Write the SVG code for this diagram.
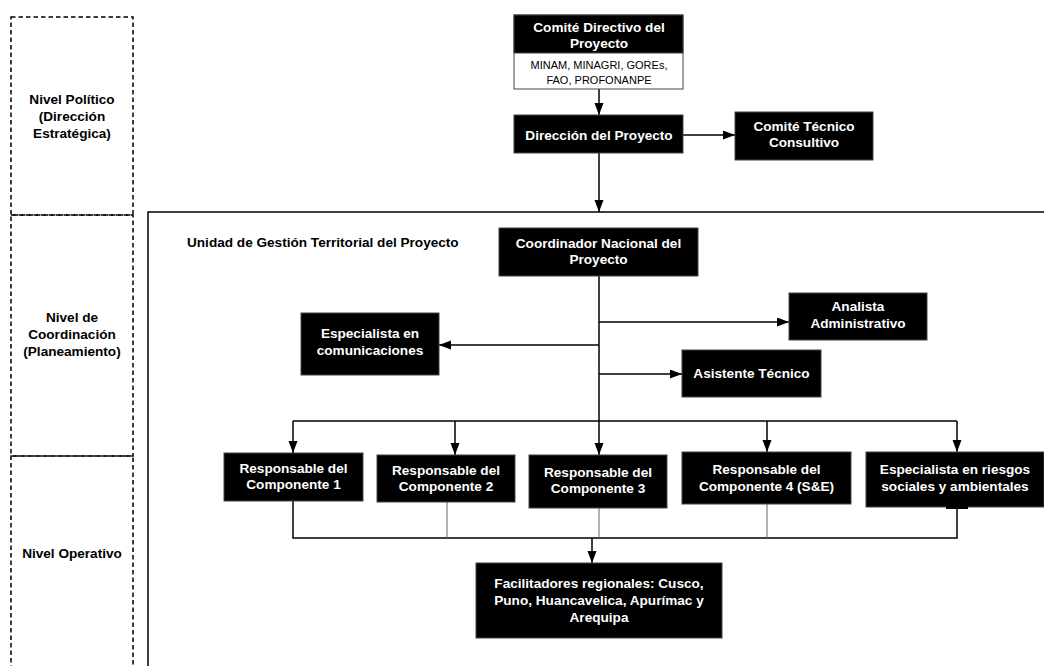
<svg xmlns="http://www.w3.org/2000/svg" width="1044" height="666" viewBox="0 0 1044 666">
<style>
.t{font-family:"Liberation Sans",Arial,sans-serif;font-size:13.6px;font-weight:bold;text-anchor:middle}
.s{font-family:"Liberation Sans",Arial,sans-serif;font-size:11px;text-anchor:middle;fill:#000}
.w{fill:#fff}
.k{fill:#000}
.box{fill:#000;stroke:#444;stroke-width:1}
.dash{fill:none;stroke:#000;stroke-width:1.5;stroke-dasharray:4.5 3}
.ln{fill:none;stroke:#000;stroke-width:1.5}
.thin{fill:none;stroke:#666;stroke-width:1}
.ar{marker-end:url(#ah)}
</style>
<defs>
<marker id="ah" markerUnits="userSpaceOnUse" markerWidth="13" markerHeight="10" refX="12" refY="4.5" orient="auto">
<path d="M0,0 L12,4.5 L0,9 z" fill="#000"/>
</marker>
</defs>
<rect width="1044" height="666" fill="#fff"/>

<g id="levels">
<rect class="dash" x="11" y="17" width="122" height="198"/>
<rect class="dash" x="11" y="215" width="122" height="241"/>
<path class="dash" d="M11,670 L11,456 L133,456 L133,670"/>
<text class="t k" x="72" y="104">Nivel Político</text>
<text class="t k" x="72" y="121">(Dirección</text>
<text class="t k" x="72" y="138">Estratégica)</text>
<text class="t k" x="72" y="321.5">Nivel de</text>
<text class="t k" x="72" y="338.5">Coordinación</text>
<text class="t k" x="72" y="355.5">(Planeamiento)</text>
<text class="t k" x="72" y="557.5">Nivel Operativo</text>
</g>

<g id="unidad">
<path d="M1050,212 L148,212 L148,670" fill="none" stroke="#000" stroke-width="1.5"/>
<text class="t k" x="187" y="247" style="text-anchor:start">Unidad de Gestión Territorial del Proyecto</text>
</g>

<g id="connectors">
<line class="ln ar" x1="599" y1="89" x2="599" y2="115"/>
<line class="ln ar" x1="683" y1="135" x2="735" y2="135"/>
<line class="ln ar" x1="599" y1="153" x2="599" y2="212"/>
<line class="ln ar" x1="599" y1="276" x2="599" y2="455"/>
<line class="ln ar" x1="599" y1="322" x2="789" y2="322"/>
<line class="ln ar" x1="599" y1="345" x2="439" y2="345"/>
<line class="ln ar" x1="599" y1="374" x2="682" y2="374"/>
<line class="ln" x1="293" y1="421" x2="957" y2="421"/>
<line class="ln ar" x1="293" y1="421" x2="293" y2="453"/>
<line class="ln ar" x1="455" y1="421" x2="455" y2="455"/>
<line class="ln ar" x1="767" y1="421" x2="767" y2="452"/>
<line class="ln ar" x1="957" y1="421" x2="957" y2="452"/>
<path class="ln" d="M293,501 L293,538 L957,538 L957,507"/>
<line class="thin" x1="447" y1="502" x2="447" y2="538"/>
<line class="thin" x1="599" y1="508" x2="599" y2="538"/>
<line class="thin" x1="767" y1="504" x2="767" y2="538"/>
<line class="ln ar" x1="592" y1="538" x2="592" y2="563"/>
</g>

<g id="comite-directivo">
<rect x="514" y="15" width="169" height="74" fill="#fff" stroke="#444" stroke-width="1"/>
<rect class="box" x="514" y="15" width="169" height="38"/>
<text class="t w" x="599" y="32">Comité Directivo del</text>
<text class="t w" x="599" y="48">Proyecto</text>
<text class="s" x="599" y="69">MINAM, MINAGRI, GOREs,</text>
<text class="s" x="599" y="84">FAO, PROFONANPE</text>
</g>

<g id="direccion">
<rect class="box" x="514" y="115" width="169" height="38"/>
<text class="t w" x="599" y="139.5">Dirección del Proyecto</text>
</g>

<g id="comite-tecnico">
<rect class="box" x="735" y="112" width="138" height="48"/>
<text class="t w" x="804" y="131">Comité Técnico</text>
<text class="t w" x="804" y="147">Consultivo</text>
</g>

<g id="coordinador">
<rect class="box" x="499" y="228" width="199" height="48"/>
<text class="t w" x="598.5" y="247.5">Coordinador Nacional del</text>
<text class="t w" x="598.5" y="263.5">Proyecto</text>
</g>

<g id="analista">
<rect class="box" x="789" y="293" width="138" height="47"/>
<text class="t w" x="858" y="311">Analista</text>
<text class="t w" x="858" y="328">Administrativo</text>
</g>

<g id="comunicaciones">
<rect class="box" x="301" y="313" width="138" height="62"/>
<text class="t w" x="370" y="338">Especialista en</text>
<text class="t w" x="370" y="355">comunicaciones</text>
</g>

<g id="asistente">
<rect class="box" x="682" y="350" width="139" height="47"/>
<text class="t w" x="751.5" y="378">Asistente Técnico</text>
</g>

<g id="resp1">
<rect class="box" x="224" y="453" width="139" height="48"/>
<text class="t w" x="293.5" y="472.5">Responsable del</text>
<text class="t w" x="293.5" y="489">Componente 1</text>
</g>

<g id="resp2">
<rect class="box" x="377" y="455" width="138" height="47"/>
<text class="t w" x="446" y="474.5">Responsable del</text>
<text class="t w" x="446" y="491">Componente 2</text>
</g>

<g id="resp3">
<rect class="box" x="529" y="455" width="138" height="53"/>
<text class="t w" x="598" y="476.5">Responsable del</text>
<text class="t w" x="598" y="492.5">Componente 3</text>
</g>

<g id="resp4">
<rect class="box" x="682" y="452" width="169" height="52"/>
<text class="t w" x="766.5" y="473.5">Responsable del</text>
<text class="t w" x="766.5" y="490.5">Componente 4 (S&amp;E)</text>
</g>

<g id="riesgos">
<rect class="box" x="866" y="452" width="178" height="55"/>
<rect x="946" y="506" width="22" height="3" fill="#000"/>
<text class="t w" x="955" y="473.5">Especialista en riesgos</text>
<text class="t w" x="955" y="490.5">sociales y ambientales</text>
</g>

<g id="facilitadores">
<rect class="box" x="476" y="563" width="246" height="75"/>
<text class="t w" x="599" y="587.5">Facilitadores regionales: Cusco,</text>
<text class="t w" x="599" y="604.5">Puno, Huancavelica, Apurímac y</text>
<text class="t w" x="599" y="621.5">Arequipa</text>
</g>
</svg>
